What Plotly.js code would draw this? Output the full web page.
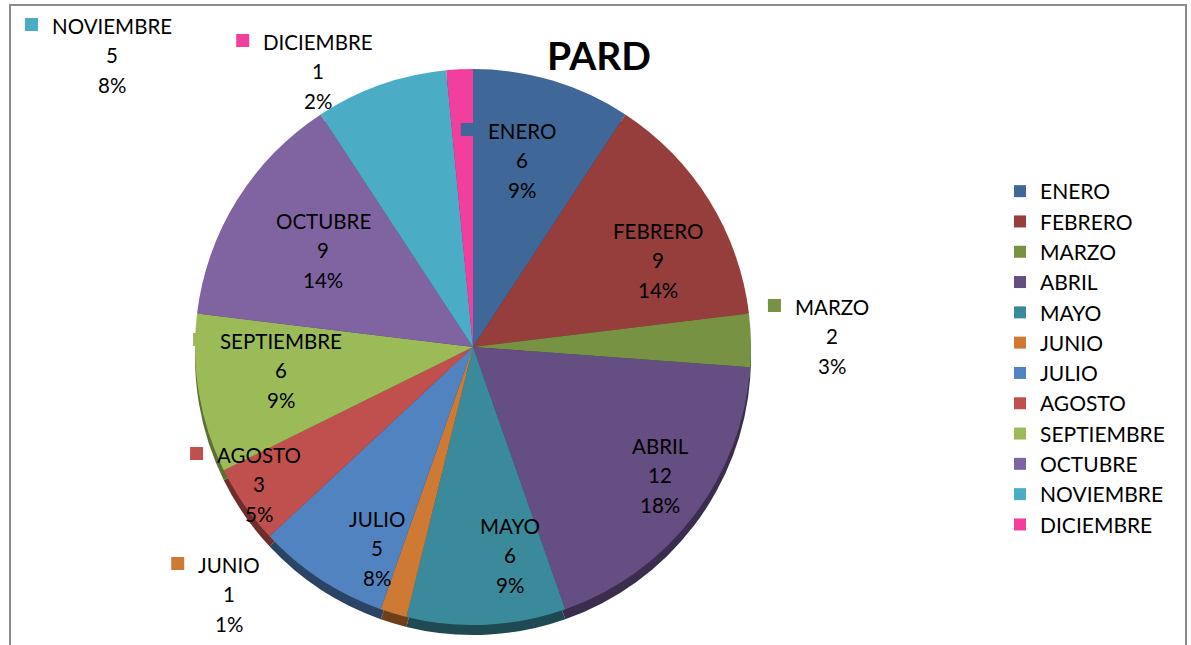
<!DOCTYPE html>
<html>
<head>
<meta charset="utf-8">
<script src="https://cdn.plot.ly/plotly-3.0.1.min.js"></script>
<style>html,body{margin:0;padding:0;background:#fff;}#chart{width:1191px;height:645px;}</style>
</head>
<body>
<div id="chart"></div>
<script>
// ---- data ----
const months = ['ENERO','FEBRERO','MARZO','ABRIL','MAYO','JUNIO','JULIO','AGOSTO','SEPTIEMBRE','OCTUBRE','NOVIEMBRE','DICIEMBRE'];
const values = [6, 9, 2, 12, 6, 1, 5, 3, 6, 9, 5, 1];
const pctLabels = ['9%','14%','3%','18%','9%','1%','8%','5%','9%','14%','8%','2%'];
const chartTitle = 'PARD';

// ---- styles / layout ----
const colors = ['#3F6797','#953E3B','#779243','#654E81','#3A8A9B','#CE7A34','#5283C1','#C0504D','#9BBB59','#8064A2','#4BACC6','#F23E9C'];
const shadowColors = ['#26405E','#5A2624','#485A28','#3B2D4D','#1F4A54','#6E4019','#2B4466','#6E2C2A','#5C7034','#4A3A5E','#2C6677','#8A2259'];
const W = 1191, H = 645;
const cx = 473, cy = 347, R = 278, depth = 10;
// data-label anchor positions (pixel, centre of the value line)
const labelPos = [[522,160],[658,260],[832,336],[660,475],[510,555],[229,594],[377,548],[259,484],[281,370],[323,250],[112,55],[318,71]];
const lineGap = 29.5;
const labelFont = {family: 'Lato, "Open Sans", sans-serif', size: 20.5, color: '#000'};

const px = x => x / W;
const py = y => 1 - y / H;

const domTop = {x: [px(cx - R), px(cx + R)], y: [py(cy + R), py(cy - R)]};
const domShadow = {x: [px(cx - R), px(cx + R)], y: [py(cy + R + depth), py(cy - R + depth)]};

const shadow = {
  type: 'pie', labels: months, values: values, sort: false, direction: 'clockwise', rotation: 0,
  domain: domShadow, marker: {colors: shadowColors}, textinfo: 'none', hoverinfo: 'skip', showlegend: false
};
const pie = {
  type: 'pie', labels: months, values: values, sort: false, direction: 'clockwise', rotation: 0,
  domain: domTop, marker: {colors: colors, line: {width: 0}}, textinfo: 'none', hoverinfo: 'label+value+percent'
};

// measure text width for placing the small key squares
const cv = document.createElement('canvas').getContext('2d');
cv.font = labelFont.size + 'px Lato';

const annotations = [];
const shapes = [];
months.forEach((m, i) => {
  const [lx, ly] = labelPos[i];
  const lines = [m, String(values[i]), pctLabels[i]];
  lines.forEach((t, k) => {
    annotations.push({
      xref: 'paper', yref: 'paper', x: px(lx), y: py(ly + (k - 1) * lineGap),
      xanchor: 'center', yanchor: 'middle', showarrow: false, text: t, font: labelFont
    });
  });
  const w = cv.measureText(m).width;
  const sqRight = lx - w / 2 - 14;
  const sqCy = ly - lineGap - 1;
  shapes.push({
    type: 'rect', xref: 'paper', yref: 'paper',
    x0: px(sqRight - 13), x1: px(sqRight), y0: py(sqCy + 6.5), y1: py(sqCy - 6.5),
    fillcolor: colors[i], line: {width: 0}
  });
});

// chart border
shapes.push({
  type: 'rect', xref: 'paper', yref: 'paper', x0: px(10), x1: px(1186), y0: py(660), y1: py(5),
  line: {color: '#8C8C8C', width: 2}, fillcolor: 'rgba(0,0,0,0)'
});

const layout = {
  width: W, height: H,
  margin: {l: 0, r: 0, t: 0, b: 0},
  paper_bgcolor: '#fff',
  title: {
    text: chartTitle, xref: 'container', yref: 'container', x: 599 / W, y: 1 - 56 / H,
    xanchor: 'center', yanchor: 'middle',
    font: {family: 'Lato, sans-serif', size: 39, weight: 700, color: '#000'}
  },
  showlegend: true,
  legend: {
    x: px(1000), y: py(171), xanchor: 'left', yanchor: 'top',
    font: {family: 'Lato, sans-serif', size: 21, color: '#000'},
    bgcolor: 'rgba(0,0,0,0)', traceorder: 'normal'
  },
  annotations: annotations,
  shapes: shapes
};

Plotly.newPlot('chart', [shadow, pie], layout, {displayModeBar: false, staticPlot: false});
</script>
</body>
</html>
